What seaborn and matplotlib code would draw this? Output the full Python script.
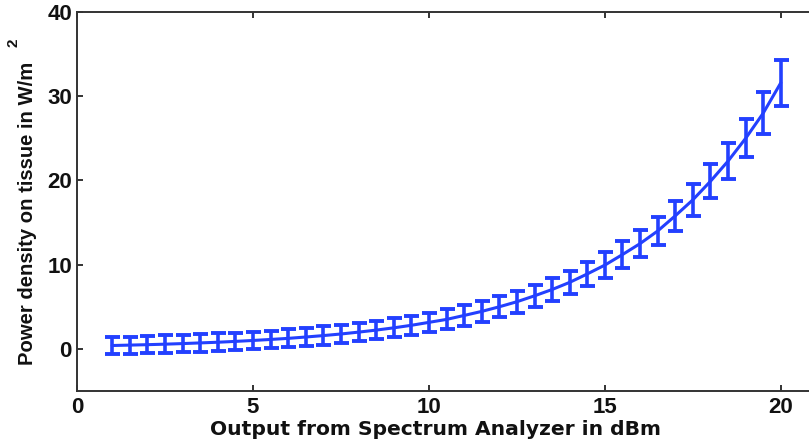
import matplotlib
matplotlib.use("Agg")
import matplotlib.pyplot as plt
import seaborn as sns
import pandas as pd

# Spectrum analyzer output (dBm) and measured power density on tissue (W/m^2)
output_dbm = [1.0, 1.5, 2.0, 2.5, 3.0, 3.5, 4.0, 4.5, 5.0, 5.5, 6.0, 6.5, 7.0,
              7.5, 8.0, 8.5, 9.0, 9.5, 10.0, 10.5, 11.0, 11.5, 12.0, 12.5, 13.0,
              13.5, 14.0, 14.5, 15.0, 15.5, 16.0, 16.5, 17.0, 17.5, 18.0, 18.5,
              19.0, 19.5, 20.0]
power_density = [0.40, 0.45, 0.50, 0.56, 0.63, 0.71, 0.79, 0.89, 1.00, 1.12,
                 1.25, 1.41, 1.58, 1.77, 1.99, 2.23, 2.50, 2.80, 3.15, 3.50,
                 3.97, 4.45, 5.00, 5.60, 6.30, 7.05, 7.90, 8.90, 9.95, 11.2,
                 12.5, 14.0, 15.8, 17.7, 19.9, 22.3, 25.0, 28.0, 31.6]
uncertainty = [1.02, 1.02, 1.03, 1.03, 1.03, 1.04, 1.04, 1.04, 1.05, 1.06,
               1.06, 1.07, 1.08, 1.09, 1.10, 1.11, 1.13, 1.14, 1.16, 1.18,
               1.20, 1.22, 1.25, 1.28, 1.32, 1.35, 1.40, 1.45, 1.50, 1.56,
               1.63, 1.70, 1.79, 1.89, 2.00, 2.12, 2.25, 2.45, 2.75]

x_ticks = [0, 5, 10, 15, 20]
y_ticks = [0, 10, 20, 30, 40]

df = pd.DataFrame({"dbm": output_dbm, "pd": power_density, "err": uncertainty})

sns.set_theme(style="ticks")
plt.rcParams["font.family"] = ["Liberation Sans", "DejaVu Sans"]
plt.rcParams["font.weight"] = "bold"

blue = "#2340ff"
ink = "#111111"

W, H = 809, 442
fig = plt.figure(figsize=(W / 100, H / 100), dpi=100)
ax = fig.add_axes([77 / W, 1 - 391 / H, 1 - 77 / W, (391 - 12) / H])

sns.lineplot(data=df, x="dbm", y="pd", ax=ax, color=blue, linewidth=2.2,
             errorbar=None)
ax.errorbar(df["dbm"], df["pd"], yerr=df["err"], fmt="none", ecolor=blue,
            elinewidth=2.6, capsize=5.4, capthick=2.8)

ax.set_xlim(0, 20.8)
ax.set_ylim(-5, 40)
ax.set_xticks(x_ticks)
ax.set_yticks(y_ticks)
ax.tick_params(direction="in", length=4, width=1.2, top=True, right=False,
               labelsize=16, colors=ink)
ax.tick_params(axis="x", pad=4.3)
ax.tick_params(axis="y", pad=3.6)
for lbl in ax.get_xticklabels() + ax.get_yticklabels():
    lbl.set_fontweight("bold")
for side in ["left", "bottom", "top"]:
    ax.spines[side].set_linewidth(1.4)
    ax.spines[side].set_color("#333333")
ax.spines["right"].set_visible(False)

ax.set_xlabel("Output from Spectrum Analyzer in dBm", va="baseline",
              family=["DejaVu Sans"], fontsize=14.6, fontweight="bold",
              color=ink)
ax.xaxis.set_label_coords((435 - 77) / (W - 77), (391 - 435) / 379)
ax.set_ylabel("Power density on tissue in W/m", va="center", ha="center",
              family=["Liberation Sans"], fontsize=14.6, fontweight="bold",
              color=ink)
ax.yaxis.set_label_coords((28 - 77) / (W - 77), (391 - 213.5) / 379)
fig.text(13 / W, 1 - 43 / H, "2", rotation=90, fontsize=11,
         fontweight="bold", ha="center", va="center", color=ink,
         family=["Liberation Sans"])

fig.savefig("out.png", dpi=100)
